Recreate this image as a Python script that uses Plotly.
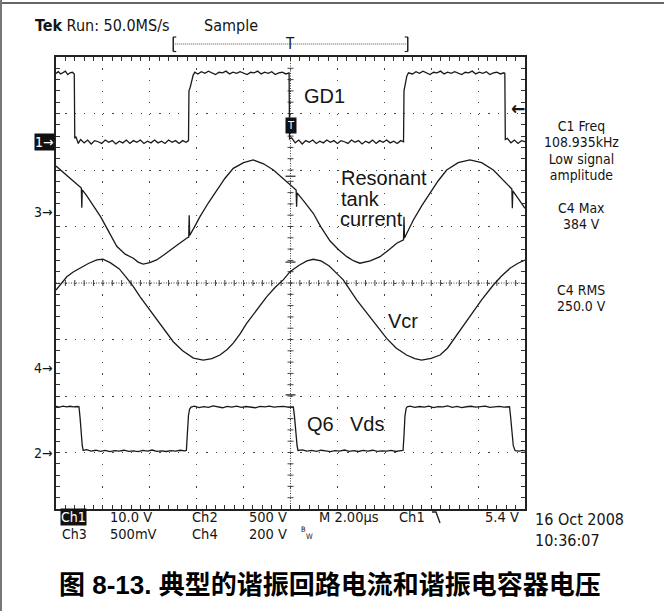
import plotly.graph_objects as go

# ---------------- captured waveforms (time in microseconds) ----------------
# Ch1: gate drive GD1, volts
gd1_t = [-10.0, -9.9, -9.8, -9.7, -9.6, -9.5, -9.4, -9.3, -9.22, -9.20,
         -9.15, -9.05, -8.95, -8.8, -8.65, -8.5, -8.35, -8.2, -8.05, -7.9,
         -7.75, -7.6, -7.45, -7.3, -7.15, -7.0, -6.85, -6.7, -6.55, -6.4,
         -6.25, -6.1, -5.95, -5.8, -5.65, -5.5, -5.35, -5.2, -5.05, -4.9,
         -4.75, -4.6, -4.45, -4.35, -4.33, -4.28, -4.22, -4.15, -4.08,
         -3.95, -3.8, -3.65, -3.5, -3.35, -3.2, -3.05, -2.9, -2.75, -2.6,
         -2.45, -2.3, -2.15, -2.0, -1.85, -1.7, -1.55, -1.4, -1.25, -1.1,
         -0.95, -0.8, -0.65, -0.5, -0.35, -0.2, -0.06, -0.04,
         0.05, 0.2, 0.35, 0.5, 0.65, 0.8, 0.95, 1.1, 1.25, 1.4, 1.55, 1.7,
         1.85, 2.0, 2.15, 2.3, 2.45, 2.6, 2.75, 2.9, 3.05, 3.2, 3.35, 3.5,
         3.65, 3.8, 3.95, 4.1, 4.25, 4.4, 4.55, 4.7, 4.82, 4.84, 4.90, 4.96,
         5.03, 5.2, 5.35, 5.5, 5.65, 5.8, 5.95, 6.1, 6.25, 6.4, 6.55, 6.7,
         6.85, 7.0, 7.15, 7.3, 7.45, 7.6, 7.75, 7.9, 8.05, 8.2, 8.35, 8.5,
         8.65, 8.8, 8.95, 9.1, 9.14, 9.16, 9.25, 9.4, 9.55, 9.7, 9.85, 10.0]
gd1_v = [12.1, 12.4, 12.0, 12.3, 12.5, 11.9, 12.2, 12.3, 12.0, 0.6,
         0.9, -0.3, 0.4, -0.2, 0.3, -0.4, 0.2, 0.0, -0.3, 0.3,
         -0.1, 0.2, -0.4, 0.1, -0.2, 0.3, -0.3, 0.2, -0.1, 0.3,
         -0.3, 0.1, -0.2, 0.3, -0.2, 0.1, -0.3, 0.3, -0.1, 0.2,
         -0.3, 0.2, -0.1, 0.2, 9.0, 9.6, 10.8, 11.8, 12.3,
         12.0, 12.4, 12.1, 12.5, 12.2, 11.9, 12.3, 12.2, 12.5, 12.0,
         12.3, 12.1, 12.4, 12.2, 11.9, 12.3, 12.2, 12.5, 12.0, 12.3,
         12.1, 12.4, 11.9, 12.2, 12.3, 12.0, 12.2, 0.5,
         0.7, -0.2, 0.3, -0.4, 0.2, -0.1, 0.3, -0.3, 0.1, -0.2, 0.3, -0.1,
         0.2, -0.3, 0.2, 0.0, -0.3, 0.3, -0.1, 0.2, -0.4, 0.1, -0.2, 0.3,
         -0.3, 0.2, -0.1, 0.3, -0.2, 0.1, -0.3, 0.2, 0.0, 9.0, 10.5, 11.6,
         12.2, 12.0, 12.4, 12.1, 12.5, 12.2, 11.9, 12.3, 12.2, 12.5, 12.0, 12.3,
         12.1, 12.4, 12.2, 11.9, 12.3, 12.2, 12.5, 12.0, 12.3, 12.1, 12.4, 11.9,
         12.2, 12.3, 12.0, 12.2, 12.1, 0.4, 0.6, -0.2, 0.3, -0.3, 0.2, 0.0]

# Ch3: resonant tank current probe output, millivolts
tank_t = [-10.0, -9.8, -9.54, -9.25, -8.98, -8.92, -8.90, -8.88, -8.70, -8.40,
          -8.10, -7.75, -7.41, -7.05, -6.70, -6.50, -6.28, -6.00, -5.71, -5.42,
          -5.13, -4.80, -4.43, -4.34, -4.32, -4.30, -4.10, -3.86, -3.50, -3.15,
          -2.80, -2.44, -2.00, -1.59, -1.15, -0.73, -0.38, -0.02, 0.24, 0.26,
          0.28, 0.60, 0.97, 1.30, 1.68, 2.05, 2.40, 2.70, 2.96, 3.40,
          3.82, 4.20, 4.53, 4.82, 4.84, 4.86, 5.05, 5.24, 5.60, 5.95,
          6.30, 6.66, 7.15, 7.65, 8.15, 8.65, 9.00, 9.36, 9.44, 9.46,
          9.48, 9.75, 10.0]
tank_mv = [410, 375, 331, 280, 227, 216, 40, 200, 150, 55,
           -38, -170, -300, -370, -406, -440, -457, -445, -421, -380,
           -333, -285, -229, -218, -25, -205, -130, -38, 85, 198,
           300, 390, 440, 464, 430, 375, 310, 242, 198, 50,
           172, 90, -8, -130, -251, -330, -392, -430, -450, -430,
           -392, -330, -273, -244, -38, -227, -150, -67, 60, 169,
           280, 375, 440, 464, 440, 375, 300, 227, 207, 36,
           190, 110, 36]

# Ch4: resonant capacitor voltage Vcr, volts
vcr_t = [-10.0, -9.75, -9.54, -9.25, -8.98, -8.60, -8.26, -8.00, -7.69, -7.30,
         -6.98, -6.70, -6.42, -5.99, -5.50, -5.00, -4.60, -4.14, -3.72, -3.35,
         -3.01, -2.70, -2.44, -2.15, -1.87, -1.45, -1.01, -0.65, -0.31, -0.02,
         0.35, 0.70, 0.97, 1.30, 1.65, 1.97, 2.25, 2.82, 3.39, 3.75,
         4.10, 4.50, 4.95, 5.30, 5.59, 6.00, 6.38, 6.70, 6.94, 7.30,
         7.65, 8.15, 8.65, 9.00, 9.36, 9.70, 10.0]
vcr_v = [275, 300, 322, 340, 352, 370, 382, 384, 372, 350,
         317, 287, 252, 204, 150, 92, 60, 34, 27, 32,
         45, 65, 87, 120, 157, 205, 252, 285, 311, 340,
         362, 378, 384, 378, 360, 334, 311, 240, 181, 140,
         104, 70, 45, 32, 27, 33, 45, 70, 98, 140,
         181, 240, 293, 325, 352, 370, 381]

# Ch2: Q6 drain-source voltage, volts
vds_t = [-10.0, -9.85, -9.7, -9.55, -9.4, -9.25, -9.1, -9.02,
         -8.97, -8.93, -8.88, -8.84,
         -8.7, -8.5, -8.3, -8.1, -7.9, -7.7, -7.5, -7.3, -7.1, -6.9, -6.7,
         -6.5, -6.3, -6.1, -5.9, -5.7, -5.5, -5.3, -5.1, -4.9, -4.7, -4.5,
         -4.44, -4.40, -4.35, -4.30, -4.24,
         -4.1, -3.9, -3.7, -3.5, -3.3, -3.1, -2.9, -2.7, -2.5, -2.3, -2.1,
         -1.9, -1.7, -1.5, -1.3, -1.1, -0.9, -0.7, -0.5, -0.3, -0.1, 0.05, 0.12,
         0.17, 0.22, 0.28, 0.32,
         0.5, 0.7, 0.9, 1.1, 1.3, 1.5, 1.7, 1.9, 2.1, 2.3, 2.5, 2.7, 2.9,
         3.1, 3.3, 3.5, 3.7, 3.9, 4.1, 4.3, 4.5, 4.7, 4.80,
         4.84, 4.88, 4.93, 4.98,
         5.1, 5.3, 5.5, 5.7, 5.9, 6.1, 6.3, 6.5, 6.7, 6.9, 7.1, 7.3, 7.5,
         7.7, 7.9, 8.1, 8.3, 8.5, 8.7, 8.9, 9.1, 9.3, 9.34,
         9.38, 9.43, 9.50, 9.58, 9.75, 9.9, 10.0]
vds_v = [408, 402, 410, 403, 409, 404, 407, 405,
         300, 180, 60, 18,
         25, 12, 20, 10, 18, 8, 16, 12, 20, 10, 15,
         8, 18, 12, 22, 10, 15, 9, 17, 12, 20, 14,
         20, 160, 330, 385, 402,
         410, 398, 406, 400, 412, 404, 396, 408, 402, 411, 399,
         407, 403, 396, 408, 404, 410, 401, 406, 408, 402, 406, 404,
         320, 180, 60, 18,
         24, 12, 18, 10, 20, 14, 8, 17, 12, 22, 10, 16, 9,
         18, 12, 20, 10, 15, 12, 19, 9, 16, 18,
         150, 320, 390, 405,
         410, 399, 407, 402, 411, 398, 406, 404, 412, 400, 408, 397, 405,
         409, 401, 406, 411, 399, 404, 408, 402, 406, 405,
         330, 180, 60, 16, 12, 18, 14]

# channel settings: (units per division, ground position in divisions)
CH1_SCALE, CH1_POS = 10.0, 2.5
CH3_SCALE, CH3_POS = 500.0, 1.25
CH4_SCALE, CH4_POS = 200.0, -1.5
CH2_SCALE, CH2_POS = 500.0, -3.0

# readout and status-line texts
readout_blocks = [(["C1 Freq", "108.935kHz", "Low signal", "amplitude"], 150.5),
                  (["C4 Max", "384 V"], 215.5),
                  (["C4 RMS", "250.0 V"], 297.5)]
status_cols = [("10.0 V", "500mV", 108), ("Ch2", "Ch4", 190),
               ("500 V", "200 V", 247)]

# ---------------- screen geometry ----------------
W, H = 664, 611
L, R, T, B = 56, 525, 57, 509           # graticule edges in page pixels
PW, PH = R - L, B - T


def px(x):
    return (x - L) / PW


def py(y):
    return (B - y) / PH


def ch_range(scale, pos):
    return [(-4 - pos) * scale, (4 - pos) * scale]


def stacked(lines, glyph_px):
    # line pitch follows the annotation font size; glyphs are sized per span
    return "<br>".join(f'<span style="font-size:{glyph_px}px">{s}</span>' for s in lines)


TRACE = "#1a1a1a"
TEK_FONT = "DejaVu Sans Condensed, Liberation Sans Narrow, DejaVu Sans, sans-serif"
LABEL_FONT = "Liberation Sans, Arial, sans-serif"

fig = go.Figure()

fig.add_trace(go.Scatter(x=gd1_t, y=gd1_v, yaxis="y2", mode="lines",
                         line=dict(color=TRACE, width=1.3), name="GD1"))
fig.add_trace(go.Scatter(x=tank_t, y=tank_mv, yaxis="y3", mode="lines",
                         line=dict(color=TRACE, width=1.3), name="Tank current"))
fig.add_trace(go.Scatter(x=vcr_t, y=vcr_v, yaxis="y4", mode="lines",
                         line=dict(color=TRACE, width=1.3), name="Vcr"))
fig.add_trace(go.Scatter(x=vds_t, y=vds_v, yaxis="y5", mode="lines",
                         line=dict(color=TRACE, width=1.3), name="Q6 Vds"))

hidden = dict(overlaying="y", visible=False, fixedrange=True)

fig.update_layout(
    width=W, height=H,
    margin=dict(l=L, r=W - R, t=T, b=H - B, pad=0),
    paper_bgcolor="white", plot_bgcolor="white",
    showlegend=False,
    xaxis=dict(range=[-10, 10], dtick=2, tick0=0, showticklabels=False,
               showgrid=True, gridcolor="#444", gridwidth=1.2,
               griddash="1.2px,10.1px", zeroline=False,
               showline=True, linecolor="#222", linewidth=1.5, mirror="ticks",
               ticks="inside", ticklen=4, tickcolor="#333", tickwidth=1,
               minor=dict(dtick=0.4, ticks="inside", ticklen=4,
                          tickcolor="#333", tickwidth=1, showgrid=False)),
    yaxis=dict(range=[-4, 4], dtick=1, tick0=0, showticklabels=False,
               showgrid=True, gridcolor="#444", gridwidth=1.2,
               griddash="1.2px,8.2px", zeroline=False,
               showline=True, linecolor="#222", linewidth=1.5, mirror="ticks",
               ticks="inside", ticklen=4, tickcolor="#333", tickwidth=1,
               minor=dict(dtick=0.2, ticks="inside", ticklen=4,
                          tickcolor="#333", tickwidth=1, showgrid=False)),
    yaxis2=dict(range=ch_range(CH1_SCALE, CH1_POS), **hidden),
    yaxis3=dict(range=ch_range(CH3_SCALE, CH3_POS), **hidden),
    yaxis4=dict(range=ch_range(CH4_SCALE, CH4_POS), **hidden),
    yaxis5=dict(range=ch_range(CH2_SCALE, CH2_POS), **hidden),
)

shapes = []
# centre cross of the graticule with fine ticks
shapes.append(dict(type="line", xref="x", yref="y", x0=0, x1=0, y0=-4, y1=4,
                   line=dict(color="#444", width=1, dash="1px,1.5px"), layer="below"))
shapes.append(dict(type="line", xref="x", yref="y", x0=-10, x1=10, y0=0, y1=0,
                   line=dict(color="#444", width=1, dash="1px,1.5px"), layer="below"))
for i in range(1, 40):
    yv = -4 + i * 0.2
    shapes.append(dict(type="line", xref="x", yref="y", xsizemode="pixel", xanchor=0,
                       x0=-3, x1=3, y0=yv, y1=yv,
                       line=dict(color="#444", width=1), layer="below"))
for i in range(1, 50):
    xv = -10 + i * 0.4
    shapes.append(dict(type="line", xref="x", yref="y", ysizemode="pixel", yanchor=0,
                       y0=-3, y1=3, x0=xv, x1=xv,
                       line=dict(color="#444", width=1), layer="below"))
# small markers on the centre line
for yv in (1.89, 0.37, -1.98):
    shapes.append(dict(type="line", xref="x", yref="y", xsizemode="pixel", xanchor=0,
                       x0=-5, x1=5, y0=yv, y1=yv, line=dict(color="#222", width=1.2)))

# record-view bracket above the graticule
for xv, sgn in ((-5.0, 1), (5.0, -1)):
    shapes.append(dict(type="line", xref="x", yref="paper", x0=xv, x1=xv,
                       y0=py(51.5), y1=py(37), line=dict(color="#222", width=1.5)))
    for yy in (51.5, 37):
        shapes.append(dict(type="line", xref="x", yref="paper", xsizemode="pixel",
                           xanchor=xv, x0=0, x1=3 * sgn, y0=py(yy), y1=py(yy),
                           line=dict(color="#222", width=1.2)))
shapes.append(dict(type="line", xref="x", yref="paper", x0=-5.0, x1=5.0,
                   y0=py(44), y1=py(44), line=dict(color="#555", width=1, dash="1px,1px")))

# falling-edge trigger glyph in the status line
shapes.append(dict(type="path", xref="paper", yref="paper",
                   path=f"M {px(432)},{py(512)} L {px(436)},{py(512)} L {px(440)},{py(523)}",
                   line=dict(color="#222", width=1.4)))

# page frame
shapes.append(dict(type="line", xref="paper", yref="paper", x0=px(0), x1=px(W),
                   y0=py(3), y1=py(3), line=dict(color="#666", width=2)))
shapes.append(dict(type="line", xref="paper", yref="paper", x0=px(1), x1=px(1),
                   y0=py(0), y1=py(H), line=dict(color="#777", width=2)))

fig.update_layout(shapes=shapes)

ann = []


def txt(text, x, y, size=15, family=TEK_FONT, xanchor="left", yanchor="middle",
        color="#151515", **kw):
    ann.append(dict(text=text, x=px(x), y=py(y), xref="paper", yref="paper",
                    xanchor=xanchor, yanchor=yanchor, showarrow=False,
                    font=dict(size=size, family=family, color=color), **kw))


# header
txt("<b>Tek</b> Run: 50.0MS/s", 33, 26, size=16)
txt("Sample", 202, 26, size=16)
txt("T", 290, 43.5, size=15, xanchor="center")

# channel ground markers
ann.append(dict(text="1\u2192", x=px(55), y=CH1_POS, xref="paper", yref="y",
                xanchor="right", yanchor="middle", showarrow=False,
                bgcolor="#111", borderpad=0,
                font=dict(size=14, family=TEK_FONT, color="white")))
for lab, pos in (("3", CH3_POS), ("4", CH4_POS), ("2", CH2_POS)):
    ann.append(dict(text=lab + "\u2192", x=px(55), y=pos, xref="paper", yref="y",
                    xanchor="right", yanchor="middle", showarrow=False,
                    font=dict(size=14, family=TEK_FONT, color="#151515")))

# trigger level arrow and trigger point box
txt("<b>\u2190</b>", 527, 108, size=19, xanchor="right")
ann.append(dict(text="T", x=0, y=(283 - 125) / 56.5, xref="x", yref="y",
                xanchor="center", yanchor="middle", showarrow=False,
                bgcolor="#111", borderpad=1,
                font=dict(size=11, family=TEK_FONT, color="white")))

# trace labels
txt("GD1", 302, 96, size=20, family=LABEL_FONT)
txt("Resonant", 339, 178, size=20, family=LABEL_FONT)
txt("tank", 339, 199, size=20, family=LABEL_FONT)
txt("current", 338, 219, size=20, family=LABEL_FONT)
txt("Vcr", 386, 321, size=20, family=LABEL_FONT)
txt("Q6", 305, 424, size=20, family=LABEL_FONT)
txt("Vds", 348, 424, size=20, family=LABEL_FONT)

# measurement readouts (about 16.4 px line pitch)
for lines, yc in readout_blocks:
    txt(stacked(lines, 13.9), 581, yc, size=12.6, xanchor="center", align="center")

# status line: two rows per column (17 px row pitch)
ann.append(dict(text="Ch1", x=px(60), y=py(517), xref="paper", yref="paper",
                xanchor="left", yanchor="middle", showarrow=False,
                bgcolor="#111", borderpad=0,
                font=dict(size=14, family=TEK_FONT, color="white")))
txt("Ch3", 60, 534, size=14)
for top, bottom, x in status_cols:
    txt(stacked([top, bottom], 14.5), x, 525.5, size=13.1, align="left")
txt("M 2.00\u00b5s", 317, 517, size=14.5)
txt("Ch1", 397, 517, size=14.5)
txt("5.4 V", 521, 517, size=14.5, xanchor="right")
txt("B", 299, 529, size=7.5)
txt("W", 304, 536, size=7.5)
txt(stacked(["16 Oct 2008", "10:36:07"], 16), 533, 530, size=16.5, align="left")

# caption
txt("<b>图 8-13. 典型的谐振回路电流和谐振电容器电压</b>", 57, 585, size=26,
    family="Liberation Sans, Noto Sans CJK SC, sans-serif", color="#000")

fig.update_layout(annotations=ann)

fig.write_html("out.html")
